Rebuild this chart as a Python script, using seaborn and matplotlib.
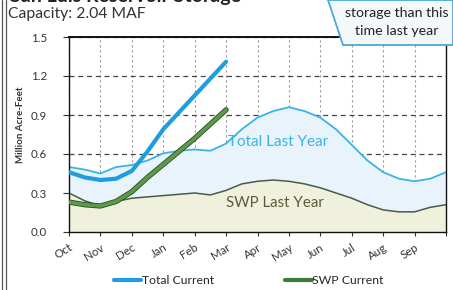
import pandas as pd
import seaborn as sns
import matplotlib.pyplot as plt
import matplotlib.patheffects as pe
from matplotlib.patches import Polygon
from matplotlib.lines import Line2D

# months since Oct 1 (half-month steps)
months = [0, 0.5, 1, 1.5, 2, 2.5, 3, 3.5, 4, 4.5, 5, 5.5, 6, 6.5, 7, 7.5,
          8, 8.5, 9, 9.5, 10, 10.5, 11, 11.5, 12]
total_last_year = [0.50, 0.48, 0.45, 0.50, 0.515, 0.55, 0.605, 0.625, 0.635, 0.625,
                   0.68, 0.79, 0.88, 0.93, 0.96, 0.93, 0.88, 0.79, 0.67, 0.55,
                   0.46, 0.41, 0.39, 0.41, 0.46]
swp_last_year = [0.30, 0.24, 0.20, 0.235, 0.26, 0.27, 0.28, 0.29, 0.30, 0.285,
                 0.32, 0.37, 0.39, 0.40, 0.39, 0.37, 0.34, 0.30, 0.26, 0.21,
                 0.17, 0.155, 0.155, 0.19, 0.21]
months_cur = [0, 0.5, 1, 1.5, 2, 2.5, 3, 3.5, 4, 4.5, 5]
total_current = [0.46, 0.42, 0.40, 0.41, 0.47, 0.62, 0.79, 0.92, 1.05, 1.18, 1.31]
swp_current = [0.23, 0.21, 0.20, 0.235, 0.31, 0.42, 0.52, 0.62, 0.72, 0.83, 0.94]
month_labels = ['Oct', 'Nov', 'Dec', 'Jan', 'Feb', 'Mar', 'Apr', 'May', 'Jun',
                'Jul', 'Aug', 'Sep']

sns.set_theme(style='white')
plt.rcParams['font.family'] = ['Lato', 'DejaVu Sans']

last = pd.DataFrame({'m': months, 'tot': total_last_year, 'swp': swp_last_year})
cur = pd.DataFrame({'m': months_cur, 'tot': total_current, 'swp': swp_current})

fig = plt.figure(figsize=(4.53, 2.90), dpi=100)
ax = fig.add_axes([69 / 453, 1 - 232 / 290, 377 / 453, 195 / 290])

ax.set_axisbelow(True)
ax.yaxis.grid(True, linestyle=(0, (4, 3)), color='#444444', lw=0.9, zorder=0.5)
ax.xaxis.grid(True, linestyle=(0, (2, 2.5)), color='#999999', lw=0.8, zorder=0.5)

ax.fill_between(last['m'], 0, last['tot'], color='#e9f3fb', zorder=1, lw=0)
ax.fill_between(last['m'], 0, last['swp'], color='#eff1dc', zorder=1.1, lw=0)

sns.lineplot(data=last, x='m', y='tot', color='#3ab4e6', lw=1.3, ax=ax, zorder=2)
sns.lineplot(data=last, x='m', y='swp', color='#4a5a48', lw=1.1, ax=ax, zorder=2)
sns.lineplot(data=cur, x='m', y='swp', color='#5a9a48', lw=2.6, ax=ax, zorder=3,
             path_effects=[pe.Stroke(linewidth=3.8, foreground='#2f4a2a'), pe.Normal()])
sns.lineplot(data=cur, x='m', y='tot', color='#1e9de0', lw=3.0, ax=ax, zorder=4)

ax.text(5.07, 0.69, 'Total Last Year', color='#3ab4e6', fontsize=11,
        va='center', ha='left', zorder=5)
ax.text(5.0, 0.22, 'SWP Last Year', color='#5b5b3c', fontsize=10.8,
        va='center', ha='left', zorder=5)

ax.set_xlim(0, 12)
ax.set_ylim(0, 1.5)
ax.set_xticks(range(13))
ax.set_xticklabels(month_labels + [''], rotation=32, ha='right',
                   rotation_mode='anchor', fontsize=8.3, color='#333333')
ax.set_yticks([0, 0.3, 0.6, 0.9, 1.2, 1.5])
ax.set_yticklabels(['0.0', '0.3', '0.6', '0.9', '1.2', '1.5'], fontsize=8.3,
                   color='#333333')
ax.tick_params(axis='y', direction='out', length=4, width=0.8, pad=12, left=True,
               color='#333333')
ax.tick_params(axis='x', direction='out', length=3, width=0.8, pad=4, bottom=True,
               color='#333333')
ax.set_xlabel('')
ax.set_ylabel('Million Acre-Feet', fontsize=7, fontweight='bold', color='#333333')
ax.yaxis.set_label_coords((25 - 69) / 377, 0.55)
for s in ax.spines.values():
    s.set_color('#111111')
    s.set_linewidth(1.0)
ax.spines['top'].set_linewidth(1.4)

handles = [Line2D([], [], color='#1e9de0', lw=3.0),
           Line2D([], [], color='#3e7a3a', lw=3.0)]
fig.legend(handles, ['Total Current', 'SWP Current'], loc='center',
           bbox_to_anchor=(249 / 453, 1 - 281 / 290), ncol=2, frameon=False,
           fontsize=8.8, handlelength=2.2, handletextpad=0.05, columnspacing=5.8)

# header text
fig.text(10 / 453, 1 - 2 / 290, 'San Luis Reservoir Storage', fontsize=14,
         fontweight='bold', color='#222222', va='baseline', ha='left')
fig.text(8 / 453, 1 - 14 / 290, 'Capacity: 2.04 MAF', fontsize=11.3,
         color='#333333', va='center', ha='left')

# callout box
pts = [(328, 0), (453, 0), (453, 45), (343, 45)]
fig.patches.append(Polygon([(x / 453, 1 - y / 290) for x, y in pts], closed=True,
                           transform=fig.transFigure, facecolor='#f4f8fb',
                           edgecolor='#4aa8d8', lw=1.3, zorder=5))
fig.text(397 / 453, 1 - 13 / 290, 'storage than this', fontsize=10.2, color='#222222',
         va='center', ha='center', zorder=6)
fig.text(397 / 453, 1 - 31 / 290, 'time last year', fontsize=10.2, color='#222222',
         va='center', ha='center', zorder=6)

# scanned page frame on the left
for xp in (2, 6):
    fig.add_artist(Line2D([xp / 453, xp / 453], [0, 1], color='#555555', lw=0.9,
                          transform=fig.transFigure))

fig.savefig('out.png', dpi=100)
